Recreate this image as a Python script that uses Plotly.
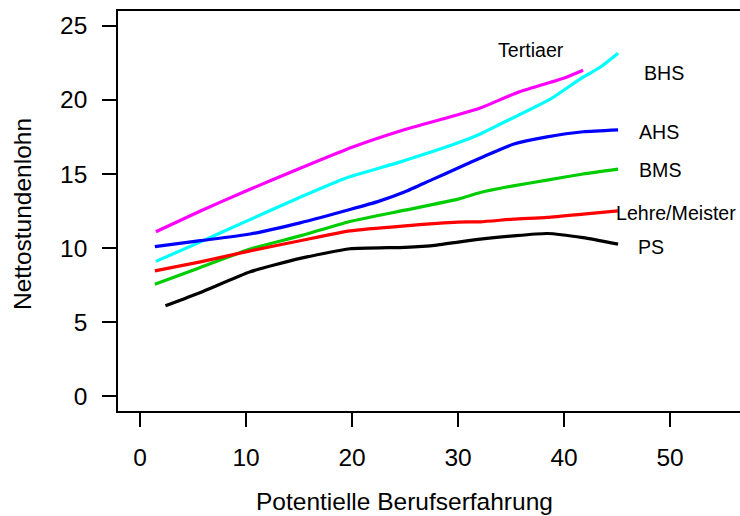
import plotly.graph_objects as go

# Potential work experience (years) and net hourly wage per education level
exp_tertiaer = [1.5, 5.7, 10.0, 15.0, 20.0, 25.0, 30.0, 32.1, 35.8, 40.1, 41.8]
wage_tertiaer = [11.1, 12.5, 13.85, 15.35, 16.8, 18.0, 19.0, 19.45, 20.55, 21.5, 22.0]

exp_bhs = [1.5, 5.5, 10.0, 15.0, 19.5, 24.5, 30.0, 32.1, 34.0, 38.7, 41.5, 43.4, 45.1]
wage_bhs = [9.1, 10.35, 11.8, 13.4, 14.75, 15.8, 17.1, 17.7, 18.37, 20.05, 21.4, 22.2, 23.15]

exp_ahs = [1.4, 5.7, 10.4, 15.1, 19.8, 22.5, 25.0, 27.5, 30.0, 32.5, 35.2, 38.4, 41.8, 45.1]
wage_ahs = [10.1, 10.5, 10.95, 11.7, 12.6, 13.15, 13.8, 14.6, 15.4, 16.2, 17.0, 17.5, 17.85, 17.98]

exp_bms = [1.4, 5.7, 10.4, 15.1, 19.8, 25.0, 30.0, 32.1, 35.2, 38.4, 41.8, 45.1]
wage_bms = [7.56, 8.69, 9.93, 10.82, 11.79, 12.56, 13.3, 13.75, 14.2, 14.58, 15.0, 15.33]

exp_lehre = [1.4, 5.7, 10.4, 15.1, 19.8, 25.0, 30.0, 32.1, 35.2, 38.4, 41.8, 45.1]
wage_lehre = [8.46, 9.07, 9.81, 10.49, 11.16, 11.5, 11.75, 11.77, 11.95, 12.07, 12.29, 12.51]

exp_ps = [2.4, 5.7, 10.4, 15.1, 19.8, 25.0, 28.0, 32.1, 35.2, 38.4, 41.8, 45.1]
wage_ps = [6.1, 7.0, 8.4, 9.3, 9.95, 10.05, 10.2, 10.6, 10.82, 10.98, 10.7, 10.26]

series = [
    ("Tertiaer", exp_tertiaer, wage_tertiaer, "#ff00ff"),
    ("BHS", exp_bhs, wage_bhs, "#00ffff"),
    ("AHS", exp_ahs, wage_ahs, "#0000ff"),
    ("BMS", exp_bms, wage_bms, "#00cd00"),
    ("Lehre/Meister", exp_lehre, wage_lehre, "#ff0000"),
    ("PS", exp_ps, wage_ps, "#000000"),
]

# Curve labels placed beside the line ends
label_names = ["Tertiaer", "BHS", "AHS", "BMS", "Lehre/Meister", "PS"]
label_x = [36.9, 49.4, 48.95, 49.05, 50.6, 48.2]
label_y = [23.4, 21.8, 17.85, 15.25, 12.35, 10.05]

x_ticks = [0, 10, 20, 30, 40, 50]
y_ticks = [0, 5, 10, 15, 20, 25]

FONT = "Liberation Sans, Arial, sans-serif"

fig = go.Figure()
for name, xs, ys, color in series:
    fig.add_trace(go.Scatter(
        x=xs, y=ys, mode="lines", name=name,
        line=dict(color=color, width=3.2, shape="spline", smoothing=0.5),
        showlegend=False, hoverinfo="skip",
    ))

for name, lx, ly in zip(label_names, label_x, label_y):
    fig.add_annotation(x=lx, y=ly, xref="x", yref="y", text=name,
                       showarrow=False, xanchor="center", yanchor="middle",
                       font=dict(family=FONT, size=19.6, color="black"))

# Axis titles
fig.add_annotation(x=0.4614, y=-0.225, xref="paper", yref="paper",
                   text="Potentielle Berufserfahrung", showarrow=False,
                   xanchor="center", yanchor="middle",
                   font=dict(family=FONT, size=24.5, color="black"))
fig.add_annotation(x=-0.1543, y=0.4925, xref="paper", yref="paper",
                   text="Nettostundenlohn", showarrow=False, textangle=-90,
                   xanchor="center", yanchor="middle",
                   font=dict(family=FONT, size=24.5, color="black"))

fig.update_layout(
    width=740, height=516,
    margin=dict(l=118, r=0, t=11, b=105),
    paper_bgcolor="white", plot_bgcolor="white",
    font=dict(family=FONT, size=24.5, color="black"),
    xaxis=dict(
        range=[-2.075, 56.6], tickvals=x_ticks, ticktext=[str(v) for v in x_ticks],
        showgrid=False, zeroline=False, showline=True, mirror=True,
        linecolor="black", linewidth=1.6,
        ticks="outside", ticklen=14, tickwidth=1.6, tickcolor="black",
        tickfont=dict(family=FONT, size=24.5, color="black"),
        ticklabelstandoff=10,
    ),
    yaxis=dict(
        range=[-1, 26], tickvals=y_ticks, ticktext=[str(v) for v in y_ticks],
        showgrid=False, zeroline=False, showline=True, mirror=False,
        linecolor="black", linewidth=1.6,
        ticks="outside", ticklen=14, tickwidth=1.6, tickcolor="black",
        tickfont=dict(family=FONT, size=24.5, color="black"),
        ticklabelstandoff=10,
    ),
)

fig.write_html("out.html")
